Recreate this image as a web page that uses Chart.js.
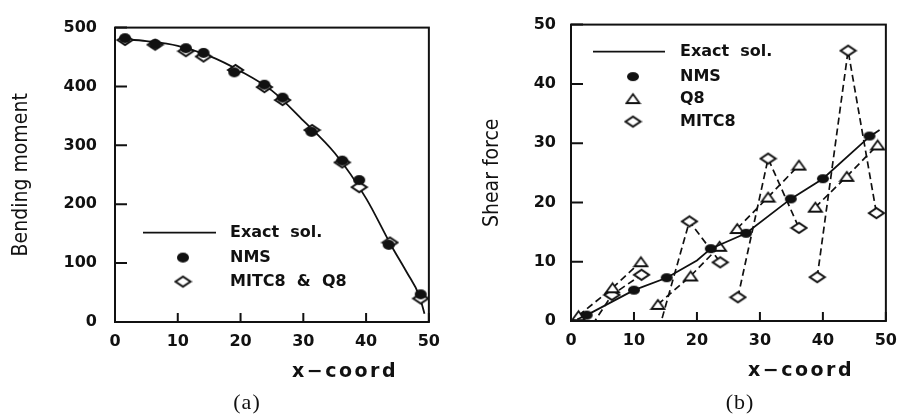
<!DOCTYPE html>
<html>
<head>
<meta charset="utf-8">
<script src="https://cdn.jsdelivr.net/npm/chart.js@4.4.0/dist/chart.umd.min.js"></script>
<style>
	html, body { margin: 0; padding: 0; background: #fff; }
	#wrap   { position: relative; width: 907px; height: 418px; overflow: hidden; }
	.panel  { position: absolute; top: 0; height: 390px; }
	#panelA { left: 0; width: 450px; }
	#panelB { left: 450px; width: 457px; }
	.cap    { position: absolute; top: 389px; transform: translateX(-50%);
	          font: 22px "Liberation Serif", "DejaVu Serif", serif; color: #111; letter-spacing: 1px; }
</style>
</head>
<body>
<div id="wrap">
	<div class="panel" id="panelA"><canvas id="chartA"></canvas></div>
	<div class="panel" id="panelB"><canvas id="chartB"></canvas></div>
	<div class="cap" style="left:247px">(a)</div>
	<div class="cap" style="left:740px">(b)</div>
</div>
<script>
// ── Data (a): bending moment ──────────────────────────────────────────────
var momTicksX  = [ 0, 10, 20, 30, 40, 50 ];
var momTicksY  = [ 0, 100, 200, 300, 400, 500 ];
var momExactX  = [ 0.8, 5, 10, 15, 20, 25, 30, 35, 40, 44, 46.5, 48.5, 49.3 ];
var momExactY  = [ 481, 477, 469, 452, 426, 393, 342, 287, 210, 130, 84, 44, 14 ];
var momNmsX    = [ 1.6, 6.4, 11.3, 14.1, 19.0, 23.8, 26.7, 31.3, 36.2, 38.9, 43.6, 48.7 ];
var momNmsY    = [ 482, 472, 465, 457, 424, 403, 381, 323, 274, 241, 131, 47 ];
var momMitcX   = [ 1.6, 6.4, 11.3, 14.1, 19.2, 23.8, 26.7, 31.4, 36.2, 38.9, 43.8, 48.7 ];
var momMitcY   = [ 479, 471, 460, 451, 428, 399, 377, 326, 271, 229, 135, 40 ];

// ── Data (b): shear force ─────────────────────────────────────────────────
var shTicksX   = [ 0, 10, 20, 30, 40, 50 ];
var shTicksY   = [ 0, 10, 20, 30, 40, 50 ];
var shExactX   = [ 1.0, 2.5, 10.0, 15.2, 20.0, 22.2, 27.8, 34.9, 40.0, 47.4, 49.0 ];
var shExactY   = [ 0.3, 1.0, 5.2, 7.3, 10.2, 12.2, 14.8, 20.6, 24.0, 31.1, 32.2 ];
var shNmsX     = [ 2.5, 10.0, 15.2, 22.2, 27.8, 34.9, 40.0, 47.4 ];
var shNmsY     = [ 1.0, 5.2, 7.3, 12.2, 14.8, 20.6, 24.0, 31.2 ];
// element groups are split with null
var shQ8X      = [ 1.2, 6.6, 11.1, null, 13.8, 19.0, 23.6, null, 26.4, 31.3, 36.2, null, 38.8, 43.8, 48.7 ];
var shQ8Y      = [ 0.9, 5.6, 10.0, null, 2.8, 7.6, 12.6, null, 15.6, 20.9, 26.3, null, 19.2, 24.4, 29.7 ];
var shMitcX    = [ 1.5, 6.5, 11.2, null, 14.0, 18.8, 23.7, null, 26.5, 31.3, 36.2, null, 39.1, 44.0, 48.5 ];
var shMitcY    = [ -3.7, 4.4, 7.8, null, -1.3, 16.8, 9.9, null, 4.0, 27.4, 15.7, null, 7.4, 45.6, 18.2 ];

// ── Helpers ───────────────────────────────────────────────────────────────
var INK = '#111';

function pts( xs, ys ) {
	return xs.map( function ( x, i ) { return { x: x, y: ys[ i ] }; } );
}

function sprite( w, h, draw ) {
	var c = document.createElement( 'canvas' );
	c.width  = w;
	c.height = h;
	draw( c.getContext( '2d' ), w, h );
	return c;
}

function diamond( w, h ) {
	return sprite( w + 4, h + 4, function ( g, cw, ch ) {
		g.lineWidth = 2; g.strokeStyle = INK; g.fillStyle = '#fff';
		g.beginPath();
		g.moveTo( 2, ch / 2 ); g.lineTo( cw / 2, 2 ); g.lineTo( cw - 2, ch / 2 ); g.lineTo( cw / 2, ch - 2 );
		g.closePath(); g.fill(); g.stroke();
	} );
}

function triangle( w, h ) {
	return sprite( w + 4, h + 4, function ( g, cw, ch ) {
		g.lineWidth = 1.8; g.strokeStyle = INK; g.fillStyle = '#fff';
		g.beginPath();
		g.moveTo( 2, ch - 2 ); g.lineTo( cw / 2, 2 ); g.lineTo( cw - 2, ch - 2 );
		g.closePath(); g.fill(); g.stroke();
	} );
}

function dot( w, h ) {
	return sprite( w + 2, h + 2, function ( g, cw, ch ) {
		g.fillStyle = INK;
		g.beginPath();
		g.ellipse( cw / 2, ch / 2, w / 2, h / 2, 0, 0, Math.PI * 2 );
		g.fill();
	} );
}

function fixTicks( values ) {
	return function ( scale ) {
		scale.ticks = values.map( function ( v ) { return { value: v }; } );
	};
}

// frame round the plot, with inward tick marks
var frameTicks = {
	id: 'frameTicks',
	afterDraw: function ( chart ) {
		var ctx = chart.ctx, a = chart.chartArea;
		var xs = chart.scales.x, ys = chart.scales.y;
		ctx.save();
		ctx.strokeStyle = INK;
		ctx.lineWidth   = 2;
		ctx.strokeRect( a.left, a.top, a.right - a.left, a.bottom - a.top );
		ctx.beginPath();
		xs.ticks.forEach( function ( t ) {
			var px = xs.getPixelForValue( t.value );
			ctx.moveTo( px, a.bottom ); ctx.lineTo( px, a.bottom - 9 );
		} );
		ys.ticks.forEach( function ( t ) {
			var py = ys.getPixelForValue( t.value );
			ctx.moveTo( a.left, py ); ctx.lineTo( a.left + 12, py );
		} );
		ctx.stroke();
		ctx.restore();
	}
};

// legend drawn inside the plot, plus the x title
var innerLegend = {
	id: 'innerLegend',
	afterDraw: function ( chart, args, opts ) {
		var ctx = chart.ctx, a = chart.chartArea;
		ctx.save();
		ctx.fillStyle    = INK;
		ctx.strokeStyle  = INK;
		ctx.font         = 'bold 16px "DejaVu Sans"';
		ctx.textBaseline = 'middle';
		opts.items.forEach( function ( it, i ) {
			var y = a.top + opts.top + opts.rows[ i ];
			if ( it.line ) {
				ctx.lineWidth = 1.6;
				ctx.beginPath();
				ctx.moveTo( a.left + opts.lineFrom, y );
				ctx.lineTo( a.left + opts.lineTo, y );
				ctx.stroke();
			}
			if ( it.mark ) {
				ctx.drawImage( it.mark, a.left + opts.markX - it.mark.width / 2, y - it.mark.height / 2 );
			}
			ctx.fillText( it.text, a.left + opts.textX, y );
		} );
		// x title
		ctx.font         = 'bold 19px "DejaVu Sans"';
		ctx.textBaseline = 'alphabetic';
		ctx.letterSpacing = '2.5px';
		ctx.fillText( 'x\u2212coord', a.left + 177, a.bottom + 55 );
		ctx.restore();
	}
};

Chart.defaults.font.family = '"DejaVu Sans", sans-serif';
Chart.defaults.color       = INK;
Chart.defaults.animation   = false;

function axes( ticksX, ticksY, maxY, yTitle, yWidth, yPad, titlePad, xHeight ) {
	return {
		x: {
			type: 'linear', min: 0, max: 50,
			grid: { display: false, drawTicks: false },
			border: { display: false },
			afterBuildTicks: fixTicks( ticksX ),
			afterFit: function ( s ) { s.height = xHeight; },
			ticks: { padding: 10, font: { size: 16, weight: 'bold' }, maxRotation: 0 }
		},
		y: {
			type: 'linear', min: 0, max: maxY,
			grid: { display: false, drawTicks: false },
			border: { display: false },
			afterBuildTicks: fixTicks( ticksY ),
			afterFit: function ( s ) { s.width = yWidth; },
			ticks: { padding: yPad, font: { size: 16, weight: 'bold' } },
			title: {
				display: true, text: yTitle, padding: { top: titlePad, bottom: 0 },
				font: { family: '"DejaVu Sans Condensed", "Liberation Sans Narrow", "DejaVu Sans", sans-serif', size: 21 }
			}
		}
	};
}

// ── Chart (a) ─────────────────────────────────────────────────────────────
var dotA  = dot( 12, 10 );
var diaA  = diamond( 15, 10 );

new Chart( document.getElementById( 'chartA' ), {
	type: 'line',
	data: {
		datasets: [
			{ label: 'NMS', data: pts( momNmsX, momNmsY ), showLine: false,
			  pointStyle: dotA, pointRadius: 6, borderColor: INK, backgroundColor: INK },
			{ label: 'MITC8 & Q8', data: pts( momMitcX, momMitcY ), showLine: false,
			  pointStyle: diaA, pointRadius: 8, borderColor: INK, backgroundColor: '#fff' },
			{ label: 'Exact sol.', data: pts( momExactX, momExactY ), borderColor: INK,
			  borderWidth: 1.8, pointRadius: 0, cubicInterpolationMode: 'monotone' }
		]
	},
	options: {
		responsive: true, maintainAspectRatio: false,
		layout: { padding: { left: 0, right: 16, top: 15, bottom: 0 } },
		scales: axes( momTicksX, momTicksY, 500, 'Bending moment', 115, 18, 9, 68 ),
		plugins: {
			legend: { display: false }, tooltip: { enabled: false },
			innerLegend: {
				top: 205, rows: [ 0, 25, 49 ], lineFrom: 28, lineTo: 101, markX: 68, textX: 115,
				items: [
					{ text: 'Exact  sol.', line: true },
					{ text: 'NMS', mark: dotA },
					{ text: 'MITC8  &  Q8', mark: diaA }
				]
			}
		}
	},
	plugins: [ frameTicks, innerLegend ]
} );

// ── Chart (b) ─────────────────────────────────────────────────────────────
var dotB  = dot( 12, 9 );
var triB  = triangle( 13, 9 );
var diaB  = diamond( 15, 10 );

new Chart( document.getElementById( 'chartB' ), {
	type: 'line',
	data: {
		datasets: [
			{ label: 'NMS', data: pts( shNmsX, shNmsY ), showLine: false,
			  pointStyle: dotB, pointRadius: 6, borderColor: INK, backgroundColor: INK },
			{ label: 'Exact sol.', data: pts( shExactX, shExactY ), borderColor: INK,
			  borderWidth: 1.8, pointRadius: 0 },
			{ label: 'Q8', data: pts( shQ8X, shQ8Y ), borderColor: INK, borderWidth: 1.7,
			  borderDash: [ 7, 4 ], pointStyle: triB, pointRadius: 7, spanGaps: false,
			  clip: { left: 8, top: 8, right: 8, bottom: 4 } },
			{ label: 'MITC8', data: pts( shMitcX, shMitcY ), borderColor: INK, borderWidth: 1.7,
			  borderDash: [ 7, 4 ], pointStyle: diaB, pointRadius: 8, spanGaps: false,
			  clip: { left: 8, top: 8, right: 8, bottom: 0 } }
		]
	},
	options: {
		responsive: true, maintainAspectRatio: false,
		layout: { padding: { left: 0, right: 15, top: 15, bottom: 0 } },
		scales: axes( shTicksX, shTicksY, 50, 'Shear force', 121, 15, 30, 69 ),
		plugins: {
			legend: { display: false }, tooltip: { enabled: false },
			innerLegend: {
				top: 27, rows: [ 0, 25, 47, 70 ], lineFrom: 22, lineTo: 94, markX: 62, textX: 109,
				items: [
					{ text: 'Exact  sol.', line: true },
					{ text: 'NMS', mark: dotB },
					{ text: 'Q8', mark: triB },
					{ text: 'MITC8', mark: diaB }
				]
			}
		}
	},
	plugins: [ frameTicks, innerLegend ]
} );
</script>
</body>
</html>
